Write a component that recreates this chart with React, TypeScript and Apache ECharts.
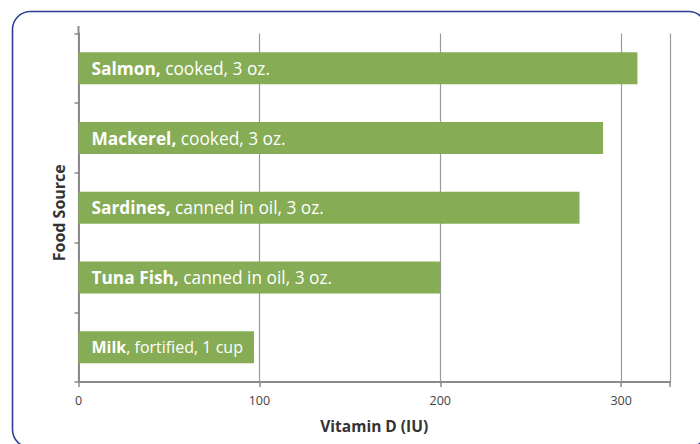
import React, { useEffect, useRef } from "react";
import * as echarts from "echarts";

const categories = ["Salmon", "Mackerel", "Sardines", "Tuna Fish", "Milk"];
const boldParts = ["Salmon,", "Mackerel,", "Sardines,", "Tuna Fish,", "Milk"];
const restParts = [" cooked, 3 oz.", " cooked, 3 oz.", " canned in oil, 3 oz.", " canned in oil, 3 oz.", ", fortified, 1 cup"];
const values = [309, 290, 277, 200, 97];
const xTicks = [0, 100, 200, 300];

export default function App() {
  const ref = useRef<HTMLDivElement>(null);
  useEffect(() => {
    if (!ref.current) return;
    const chart = echarts.init(ref.current, null, { renderer: "svg" });
    const font = "'Open Sans', 'Noto Sans', sans-serif";
    const richFor = (size: number) => ({
      b: { fontFamily: font, fontWeight: "bold", fontSize: size, color: "#fff" },
      n: { fontFamily: font, fontSize: size, color: "#fff" },
    });
    const barData = values.map((v, i) =>
      i === values.length - 1 ? { value: v, label: { rich: richFor(16) } } : { value: v }
    );
    chart.setOption({
      animation: false,
      grid: { left: 78.5, right: 30, top: 33.5, bottom: 62 },
      xAxis: {
        type: "value",
        min: 0,
        max: 327,
        interval: 100,
        name: "Vitamin D (IU)",
        nameLocation: "middle",
        nameGap: 36,
        nameTextStyle: { fontFamily: font, fontWeight: "bold", fontSize: 15.5, color: "#333" },
        axisLine: { show: true, lineStyle: { color: "#8a8a8a", width: 2 } },
        axisTick: { show: true, length: 5, lineStyle: { color: "#8a8a8a", width: 1.5 } },
        axisLabel: {
          fontFamily: font,
          fontSize: 12.5,
          color: "#444",
          margin: 12,
          formatter: (v: number) => (xTicks.includes(v) ? String(v) : ""),
        },
        splitLine: { show: true, lineStyle: { color: "#9a9a9a", width: 1.2 } },
      },
      yAxis: {
        type: "category",
        inverse: true,
        data: categories,
        name: "Food Source",
        nameLocation: "middle",
        nameGap: 12,
        nameRotate: 90,
        nameTextStyle: { fontFamily: font, fontWeight: "bold", fontSize: 16, color: "#333", padding: [0, 10, 0, 0] },
        axisLine: { show: true, lineStyle: { color: "#8a8a8a", width: 2 } },
        axisTick: { show: true, length: 4, lineStyle: { color: "#8a8a8a", width: 1.5 } },
        axisLabel: { show: false },
      },
      graphic: [
        {
          type: "rect",
          shape: { x: 12.5, y: 11.5, width: 694, height: 436, r: 18 },
          style: { fill: "none", stroke: "#2b3f94", lineWidth: 1.6 },
          silent: true,
        },
        {
          type: "line",
          shape: { x1: 78.5, y1: 26, x2: 78.5, y2: 34 },
          style: { stroke: "#8a8a8a", lineWidth: 2 },
          silent: true,
        },
      ],
      series: [
        {
          type: "bar",
          data: barData,
          barWidth: 32,
          itemStyle: { color: "#86ac55" },
          label: {
            show: true,
            position: "insideLeft",
            distance: 13,
            formatter: (p: any) => `{b|${boldParts[p.dataIndex]}}{n|${restParts[p.dataIndex]}}`,
            rich: richFor(17.3),
          },
        },
      ],
    });
    return () => chart.dispose();
  }, []);
  return <div ref={ref} style={{ width: 700, height: 444, position: "absolute", left: 0, top: 0 }} />;
}
